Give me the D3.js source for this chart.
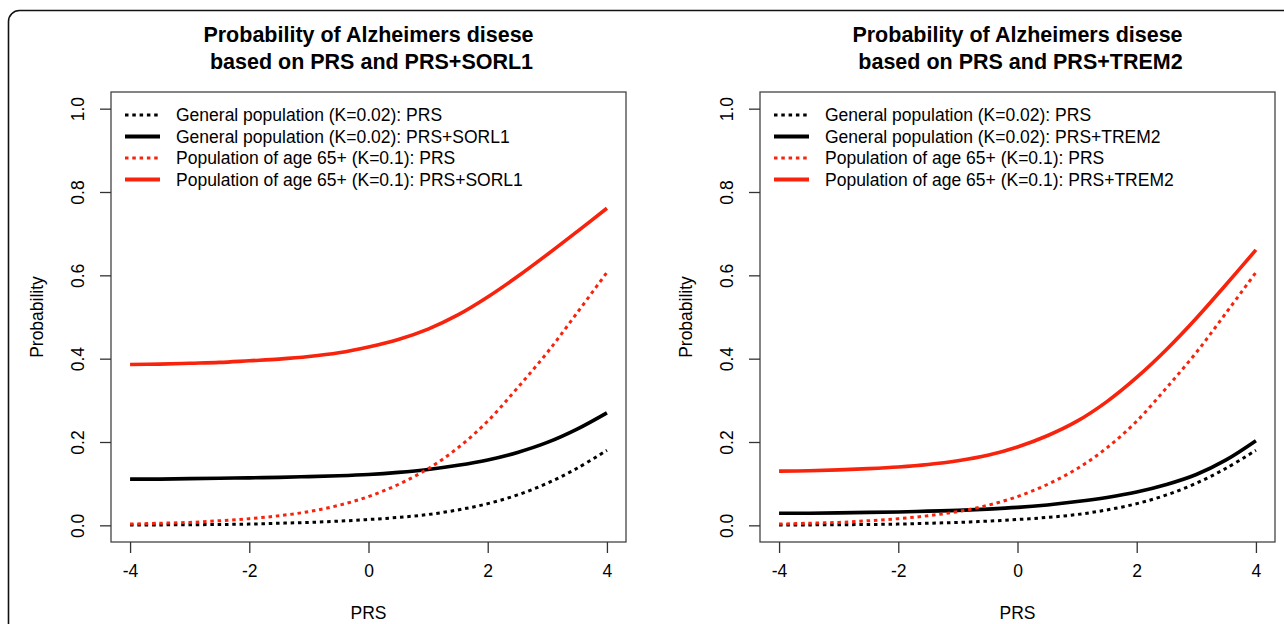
<!DOCTYPE html>
<html>
<head>
<meta charset="utf-8">
<script src="https://cdn.jsdelivr.net/npm/d3@7"></script>
</head>

<style>
body {
    margin: 0;
    background: #fff;
}
text {
    font-family: "Liberation Sans", Arial, sans-serif;
    fill: #000;
}
</style>

<body>
    <svg id="canvas"></svg>
</body>

<script>

const W = 1284, H = 624;

// values, one point per half unit of PRS
const prsValues = [-4, -3.5, -3, -2.5, -2, -1.5, -1, -0.5, 0, 0.5, 1, 1.5, 2, 2.5, 3, 3.5, 4];
const generalPRS = [0.0005, 0.001, 0.0015, 0.002, 0.003, 0.005, 0.007, 0.010, 0.014, 0.019, 0.026, 0.037, 0.052, 0.073, 0.101, 0.137, 0.180];
const age65PRS = [0.003, 0.005, 0.007, 0.011, 0.016, 0.023, 0.033, 0.048, 0.069, 0.098, 0.136, 0.186, 0.250, 0.330, 0.415, 0.510, 0.607];
const generalSORL1 = [0.111, 0.111, 0.112, 0.113, 0.114, 0.115, 0.117, 0.119, 0.122, 0.127, 0.134, 0.144, 0.157, 0.175, 0.199, 0.231, 0.270];
const age65SORL1 = [0.386, 0.387, 0.389, 0.391, 0.395, 0.399, 0.405, 0.414, 0.428, 0.446, 0.471, 0.505, 0.548, 0.597, 0.650, 0.705, 0.761];
const generalTREM2 = [0.029, 0.029, 0.030, 0.031, 0.032, 0.034, 0.036, 0.039, 0.043, 0.049, 0.057, 0.067, 0.080, 0.098, 0.122, 0.157, 0.203];
const age65TREM2 = [0.130, 0.131, 0.133, 0.136, 0.140, 0.146, 0.155, 0.168, 0.188, 0.215, 0.250, 0.297, 0.355, 0.422, 0.497, 0.578, 0.661];

const xTicks = [-4, -2, 0, 2, 4];
const yTicks = [0, 0.2, 0.4, 0.6, 0.8, 1.0];
const seriesLabels = [
    'General population (K=0.02): PRS',
    'General population (K=0.02): PRS+',
    'Population of age 65+ (K=0.1): PRS',
    'Population of age 65+ (K=0.1): PRS+'
];

const RED = '#f8230c';

const panels = [
    { gene: 'SORL1', left: 111, series: [generalPRS, generalSORL1, age65PRS, age65SORL1] },
    { gene: 'TREM2', left: 760, series: [generalPRS, generalTREM2, age65PRS, age65TREM2] }
];
const styles = [
    { color: '#000', dash: '3.5,3.8', width: 3 },
    { color: '#000', dash: null, width: 3.6 },
    { color: RED, dash: '3.5,3.8', width: 3 },
    { color: RED, dash: null, width: 3.6 }
];

const svg = d3.select('svg#canvas')
    .attr('width', W)
    .attr('height', H);

svg.append('rect').attr('width', W).attr('height', H).attr('fill', '#fff');

// outer frame, runs off the right and bottom edge
svg.append('rect')
    .attr('x', 8.5).attr('y', 10.5)
    .attr('width', 1400).attr('height', 800)
    .attr('rx', 11)
    .attr('fill', 'none')
    .attr('stroke', '#111')
    .attr('stroke-width', 1.6);

const plotW = 515, plotTop = 92, plotBottom = 542;

panels.forEach((p) => {
    const g = svg.append('g');
    const x = d3.scaleLinear().domain([-4.32, 4.32]).range([p.left, p.left + plotW]);
    const y = d3.scaleLinear().domain([-0.04, 1.04]).range([plotBottom, plotTop]);
    const cx = p.left + plotW / 2;

    // title
    const title = g.append('text')
        .attr('x', cx)
        .attr('text-anchor', 'middle')
        .style('font-weight', 'bold')
        .style('font-size', '21.5px')
        .style('white-space', 'pre');
    title.append('tspan').attr('x', cx).attr('y', 42).text('Probability of Alzheimers disese');
    title.append('tspan').attr('x', cx).attr('y', 69).text(' based on PRS and PRS+' + p.gene);

    // box
    g.append('rect')
        .attr('x', p.left).attr('y', plotTop)
        .attr('width', plotW).attr('height', plotBottom - plotTop)
        .attr('fill', 'none')
        .attr('stroke', '#444')
        .attr('stroke-width', 1.3);

    // x axis
    const xAxis = g.append('g')
        .attr('transform', `translate(0,${plotBottom})`)
        .call(d3.axisBottom(x).tickValues(xTicks).tickSize(11).tickPadding(12)
            .tickFormat(d3.format('d')));
    xAxis.select('.domain').remove();
    xAxis.selectAll('line').attr('stroke', '#333').attr('stroke-width', 1.3);
    xAxis.selectAll('text').style('font-size', '17.5px').attr('fill', '#000')
        .text(d => d < 0 ? '-' + Math.abs(d) : d);

    // y axis
    const yAxis = g.append('g')
        .attr('transform', `translate(${p.left},0)`)
        .call(d3.axisLeft(y).tickValues(yTicks).tickSize(11).tickFormat(d3.format('.1f')));
    yAxis.select('.domain').remove();
    yAxis.selectAll('line').attr('stroke', '#333').attr('stroke-width', 1.3);
    yAxis.selectAll('text')
        .attr('x', null).attr('dy', null)
        .attr('text-anchor', 'middle')
        .attr('dominant-baseline', 'central')
        .attr('transform', 'translate(-33,0) rotate(-90)')
        .style('font-size', '17.5px').attr('fill', '#000');

    // axis titles
    g.append('text')
        .attr('x', cx).attr('y', 619)
        .attr('text-anchor', 'middle')
        .style('font-size', '17.5px')
        .text('PRS');
    g.append('text')
        .attr('transform', `translate(${p.left - 74},${(plotTop + plotBottom) / 2}) rotate(-90)`)
        .attr('text-anchor', 'middle')
        .attr('dominant-baseline', 'central')
        .style('font-size', '17.5px')
        .text('Probability');

    // curves
    const line = d3.line()
        .x(d => x(d[0]))
        .y(d => y(d[1]))
        .curve(d3.curveCatmullRom.alpha(0.5));

    p.series.forEach((vals, i) => {
        const pts = prsValues.map((v, j) => [v, vals[j]]);
        g.append('path')
            .attr('d', line(pts))
            .attr('fill', 'none')
            .attr('stroke', styles[i].color)
            .attr('stroke-width', styles[i].width)
            .attr('stroke-dasharray', styles[i].dash);
    });

    // legend (no box)
    seriesLabels.forEach((lab, i) => {
        const ly = 115 + i * 21.5;
        g.append('line')
            .attr('x1', p.left + 14).attr('x2', p.left + 49)
            .attr('y1', ly).attr('y2', ly)
            .attr('stroke', styles[i].color)
            .attr('stroke-width', styles[i].dash ? 3 : 4)
            .attr('stroke-dasharray', styles[i].dash);
        g.append('text')
            .attr('x', p.left + 65).attr('y', ly)
            .attr('dominant-baseline', 'central')
            .style('font-size', '17.5px')
            .text(lab + (i % 2 === 1 ? p.gene : ''));
    });
});

</script>
</html>
